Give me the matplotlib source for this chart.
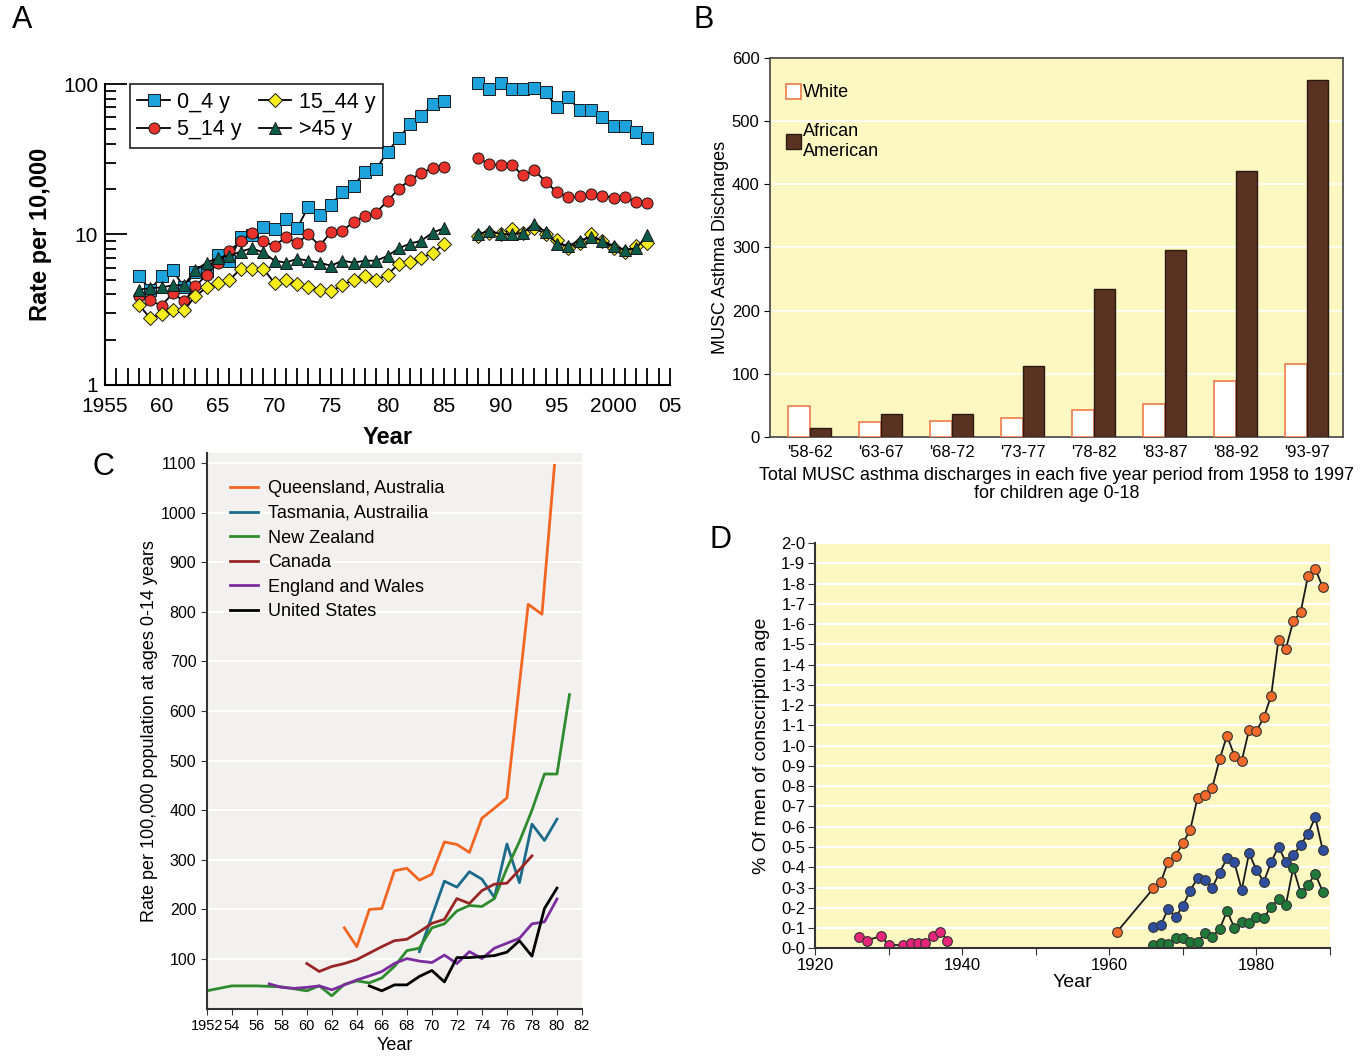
import numpy as np
import matplotlib
matplotlib.use('Agg')
import matplotlib.pyplot as plt
from matplotlib.ticker import FixedLocator, NullFormatter

plt.rcParams['font.family'] = ['Liberation Sans', 'DejaVu Sans']

# ---------- panel A data ----------
nan = np.nan
years_a = list(range(1958, 2004))
age_0_4 = [5.28, 4.30, 5.28, 5.78, 4.46, 5.64, 5.75, 7.36, 6.64, 9.60, 9.85,
           11.2, 10.8, 12.6, 11.0, 15.3, 13.4, 15.8, 19.1, 21.0, 26.2, 27.1,
           35.6, 43.6, 54.1, 61.5, 73.6, 77.4, nan, nan,
           101, 92.6, 101, 92.6, 92.6, 94, 88, 69.9, 81.5, 67.1, 67.1, 59.9,
           52.7, 52.7, 48.3, 44.1]
age_5_14 = [3.88, 3.65, 3.36, 4.08, 3.59, 4.52, 5.4, 6.5, 7.8, 9.0, 10.2,
            9.0, 8.4, 9.6, 8.8, 10.0, 8.4, 10.4, 10.6, 12.1, 13.3, 14.0,
            16.7, 20.2, 23.0, 25.8, 27.5, 28.1, nan, nan,
            32.4, 29.3, 29.0, 29.0, 24.7, 26.7, 22.4, 19.1, 17.7, 17.9, 18.5,
            18.0, 17.6, 17.7, 16.5, 16.3]
age_15_44 = [3.41, 2.78, 2.96, 3.16, 3.16, 3.88, 4.46, 4.76, 4.96, 5.93, 5.93,
             5.93, 4.76, 5.0, 4.69, 4.48, 4.30, 4.19, 4.6, 5.0, 5.28, 5.0,
             5.4, 6.4, 6.6, 7.0, 7.5, 8.7, nan, nan,
             9.7, 10.3, 10.0, 10.8, 10.3, 11.1, 10.0, 9.2, 8.1, 8.8, 10.0,
             9.0, 8.1, 7.6, 8.4, 8.8]
age_45 = [4.3, 4.4, 4.45, 4.6, 4.6, 5.8, 6.5, 7.0, 7.2, 7.7, 8.1,
          7.6, 6.7, 6.5, 6.9, 6.7, 6.5, 6.2, 6.7, 6.5, 6.7, 6.7,
          7.2, 8.1, 8.7, 9.1, 10.3, 11.0, nan, nan,
          10.1, 10.5, 10.1, 10.0, 10.3, 11.7, 10.4, 8.7, 8.4, 9.1, 9.6,
          9.1, 8.4, 7.9, 8.1, 9.9]

# ---------- panel B data ----------
periods = ["'58-62", "'63-67", "'68-72", "'73-77", "'78-82", "'83-87", "'88-92", "'93-97"]
white = [49, 24, 26, 30, 43, 52, 88, 116]
african_american = [15, 37, 36, 112, 234, 296, 421, 565]

# ---------- panel C data ----------
qld_years = [1963, 1964, 1965, 1966, 1967, 1968, 1969, 1970, 1971, 1972, 1973,
             1974, 1975, 1976, 1977.7, 1978.8, 1979.8]
qld = [163, 125, 200, 202, 278, 283, 259, 271, 336, 331, 315, 384, 404, 425,
       815, 795, 1095]
tas_years = list(range(1969, 1981))
tas = [115, 186, 257, 245, 276, 261, 224, 332, 254, 372, 339, 382]
nz_years = [1952, 1954, 1956, 1958, 1960, 1961, 1962, 1963, 1964, 1965, 1966,
            1967, 1968, 1969, 1970, 1971, 1972, 1973, 1974, 1975, 1976, 1977,
            1978, 1979, 1980, 1981]
nz = [36, 46, 46, 44, 36, 46, 26, 49, 56, 52, 62, 85, 117, 122, 163, 171, 197,
      208, 206, 222, 283, 337, 400, 473, 473, 633]
can_years = list(range(1960, 1979))
canada = [91, 75, 85, 91, 99, 112, 125, 137, 140, 155, 172, 180, 222, 212, 238,
          251, 253, 280, 308]
ew_years = list(range(1957, 1981))
eng_wales = [50, 43, 41, 43, 46, 38, 48, 58, 66, 75, 91, 101, 96, 93, 108, 91,
             115, 101, 122, 132, 142, 171, 175, 221]
us_years = list(range(1965, 1981))
usa = [46, 36, 48, 48, 65, 77, 54, 103, 103, 105, 107, 114, 137, 106, 202, 243]

# ---------- panel D data ----------
pink_years = [1926, 1927, 1929, 1930, 1932, 1933, 1934, 1935, 1936, 1937, 1938]
pink = [0.054, 0.038, 0.061, 0.016, 0.016, 0.025, 0.028, 0.025, 0.061, 0.082, 0.038]
orange_years = [1961] + list(range(1966, 1990))
orange = [0.079, 0.296, 0.326, 0.428, 0.456, 0.519, 0.584, 0.744, 0.756, 0.793,
          0.933, 1.050, 0.950, 0.925, 1.078, 1.072, 1.139, 1.246, 1.523, 1.478,
          1.613, 1.658, 1.835, 1.872, 1.783]
blue_years = list(range(1966, 1990))
blue = [0.104, 0.115, 0.194, 0.153, 0.209, 0.285, 0.346, 0.337, 0.300, 0.374,
        0.444, 0.425, 0.288, 0.469, 0.387, 0.328, 0.425, 0.502, 0.425, 0.458,
        0.510, 0.565, 0.647, 0.486]
green_years = list(range(1966, 1990))
green = [0.016, 0.025, 0.021, 0.049, 0.049, 0.033, 0.030, 0.074, 0.058, 0.095,
         0.184, 0.102, 0.128, 0.123, 0.153, 0.148, 0.206, 0.242, 0.214, 0.398,
         0.275, 0.313, 0.367, 0.280]

fig = plt.figure(figsize=(13.67, 10.59), dpi=100)
W, H = 1367.0, 1059.0


def box(l, t, r, b):
    return [l / W, 1 - b / H, (r - l) / W, (b - t) / H]


# ================= A =================
ax = fig.add_axes(box(105, 84, 670, 385))
ms = 8
common = dict(color='black', lw=1.3, mec='#1a1a1a', mew=0.7, clip_on=False)
ax.plot(years_a, age_0_4, '-s', mfc='#1ea2dc', ms=ms, label='0_4 y', **common)
ax.plot(years_a, age_5_14, '-o', mfc='#e8322b', ms=ms, label='5_14 y', **common)
ax.plot(years_a, age_15_44, '-D', mfc='#f6ee1c', ms=7, label='15_44 y', **common)
ax.plot(years_a, age_45, '-^', mfc='#0e5a48', ms=ms + 1, label='>45 y', **common)
ax.set_yscale('log')
ax.set_ylim(1, 100)
ax.set_xlim(1955, 2005)
ax.spines['top'].set_visible(False)
ax.spines['right'].set_visible(False)
for s in ['left', 'bottom']:
    ax.spines[s].set_linewidth(1.5)
ax.set_xticks(range(1955, 2006, 5))
ax.set_xticklabels(['1955', '60', '65', '70', '75', '80', '85', '90', '95', '2000', '05'])
ax.xaxis.set_minor_locator(FixedLocator(range(1955, 2006)))
ax.set_yticks([1, 10, 100])
ax.set_yticklabels(['1', '10', '100'])
ax.yaxis.set_minor_formatter(NullFormatter())
ax.tick_params(axis='both', which='both', direction='in', labelsize=15, width=1.3)
ax.tick_params(axis='x', which='both', length=12, pad=9)
ax.tick_params(axis='y', which='major', length=16, pad=5)
ax.tick_params(axis='y', which='minor', length=8)
ax.set_xlabel('Year', fontsize=17, fontweight='bold', labelpad=7)
ax.set_ylabel('Rate per 10,000', fontsize=17, fontweight='bold', labelpad=8)
leg = ax.legend(ncol=2, loc='upper left', bbox_to_anchor=(0.025, 1.035), fontsize=15.5,
                fancybox=False, edgecolor='black', handlelength=1.5,
                handletextpad=0.35, columnspacing=0.8, labelspacing=0.3,
                borderpad=0.35)
leg.get_frame().set_linewidth(1.3)
fig.text(12 / W, 1 - 20 / H, 'A', fontsize=22, va='center')

# ================= B =================
yellow = '#fdf8c2'
ax = fig.add_axes(box(770, 58, 1343, 437))
ax.set_facecolor(yellow)
x = np.arange(len(periods))
bw = 0.3
ax.bar(x - bw / 2, white, bw, color='white', edgecolor='#f07a4a', lw=1.2,
       label='White', zorder=3)
ax.bar(x + bw / 2, african_american, bw, color='#5a3222', edgecolor='#2a1a12', lw=1,
       label='African\nAmerican', zorder=3)
ax.set_ylim(0, 600)
ax.set_xlim(-0.56, 7.51)
ax.set_yticks(range(0, 601, 100))
ax.yaxis.grid(True, color='white', lw=1.2, zorder=0)
ax.set_axisbelow(True)
ax.set_xticks(x)
ax.set_xticklabels(periods)
ax.tick_params(axis='x', length=0, labelsize=12, pad=6)
ax.tick_params(axis='y', length=4, labelsize=12)
for s in ax.spines.values():
    s.set_color('#444444')
    s.set_linewidth(1.2)
ax.set_ylabel('MUSC Asthma Discharges', fontsize=13, labelpad=2)
ax.set_xlabel('Total MUSC asthma discharges in each five year period from 1958 to 1997\n'
              'for children age 0-18', fontsize=13, labelpad=5, linespacing=1.05)
ax.legend(loc='upper left', bbox_to_anchor=(0.0, 0.975), frameon=False, fontsize=13,
          handlelength=0.8, handleheight=0.9, handletextpad=0.1, labelspacing=1.2)
fig.text(693 / W, 1 - 20 / H, 'B', fontsize=22, va='center')

# ================= C =================
ax = fig.add_axes(box(206.7, 453, 582, 1008.7))
ax.set_facecolor('#f2f1ef')
ax.plot(qld_years, qld, color='#f26522', lw=2, label='Queensland, Australia')
ax.plot(tas_years, tas, color='#1c6b8a', lw=2, label='Tasmania, Austrailia')
ax.plot(nz_years, nz, color='#2e8b2e', lw=2, label='New Zealand')
ax.plot(can_years, canada, color='#992626', lw=2, label='Canada')
ax.plot(ew_years, eng_wales, color='#7b2d9e', lw=2, label='England and Wales')
ax.plot(us_years, usa, color='black', lw=2, label='United States')
ax.set_xlim(1952, 1982)
ax.set_ylim(0, 1120)
ax.set_yticks(range(100, 1101, 100))
ax.yaxis.grid(True, color='white', lw=1.5)
ax.set_axisbelow(True)
ax.set_xticks(range(1952, 1983, 2))
ax.set_xticklabels(['1952'] + ['%02d' % (y % 100) for y in range(1954, 1983, 2)])
ax.spines['top'].set_visible(False)
ax.spines['right'].set_visible(False)
for s in ['left', 'bottom']:
    ax.spines[s].set_color('#333333')
    ax.spines[s].set_linewidth(1.5)
ax.tick_params(axis='both', direction='out', length=4, labelsize=11.5, color='#333333')
ax.tick_params(axis='x', labelsize=10.5)
ax.set_xlabel('Year', fontsize=13, labelpad=3)
ax.set_ylabel('Rate per 100,000 population at ages 0-14 years', fontsize=13, labelpad=2)
ax.legend(loc='upper left', bbox_to_anchor=(0.02, 0.98), frameon=False, fontsize=13,
          handlelength=1.5, handletextpad=0.6, labelspacing=0.42)
fig.text(92 / W, 1 - 467 / H, 'C', fontsize=22, va='center')

# ================= D =================
ax = fig.add_axes(box(815, 543, 1330, 948.3))
ax.set_facecolor(yellow)
mk = dict(marker='o', ms=7, mec='#333333', mew=0.8, color='#1a1a1a', lw=1.3)
ax.plot(pink_years, pink, mfc='#e6247a', **mk)
ax.plot(orange_years, orange, mfc='#f26a2a', **mk)
ax.plot(blue_years, blue, mfc='#2e4ea0', **mk)
ax.plot(green_years, green, mfc='#1f7a3a', **mk)
ax.set_xlim(1920, 1990)
ax.set_ylim(0, 2.0)
yt = np.round(np.arange(0, 2.01, 0.1), 1)
ax.set_yticks(yt)
ax.set_yticklabels([('%.1f' % v).replace('.', '-') for v in yt])
ax.yaxis.grid(True, color='white', lw=1.5)
ax.set_axisbelow(True)
ax.set_xticks(range(1920, 1991, 10))
ax.set_xticklabels(['1920', '', '1940', '', '1960', '', '1980', ''])
ax.spines['top'].set_visible(False)
ax.spines['right'].set_visible(False)
for s in ['left', 'bottom']:
    ax.spines[s].set_color('#333333')
    ax.spines[s].set_linewidth(1.5)
ax.tick_params(axis='both', direction='out', length=5, labelsize=12, color='#333333', pad=2)
ax.set_xlabel('Year', fontsize=14, labelpad=1)
ax.set_ylabel('% Of men of conscription age', fontsize=14, labelpad=8)
fig.text(710 / W, 1 - 540 / H, 'D', fontsize=22, va='center')

fig.savefig('out.png', dpi=100)
